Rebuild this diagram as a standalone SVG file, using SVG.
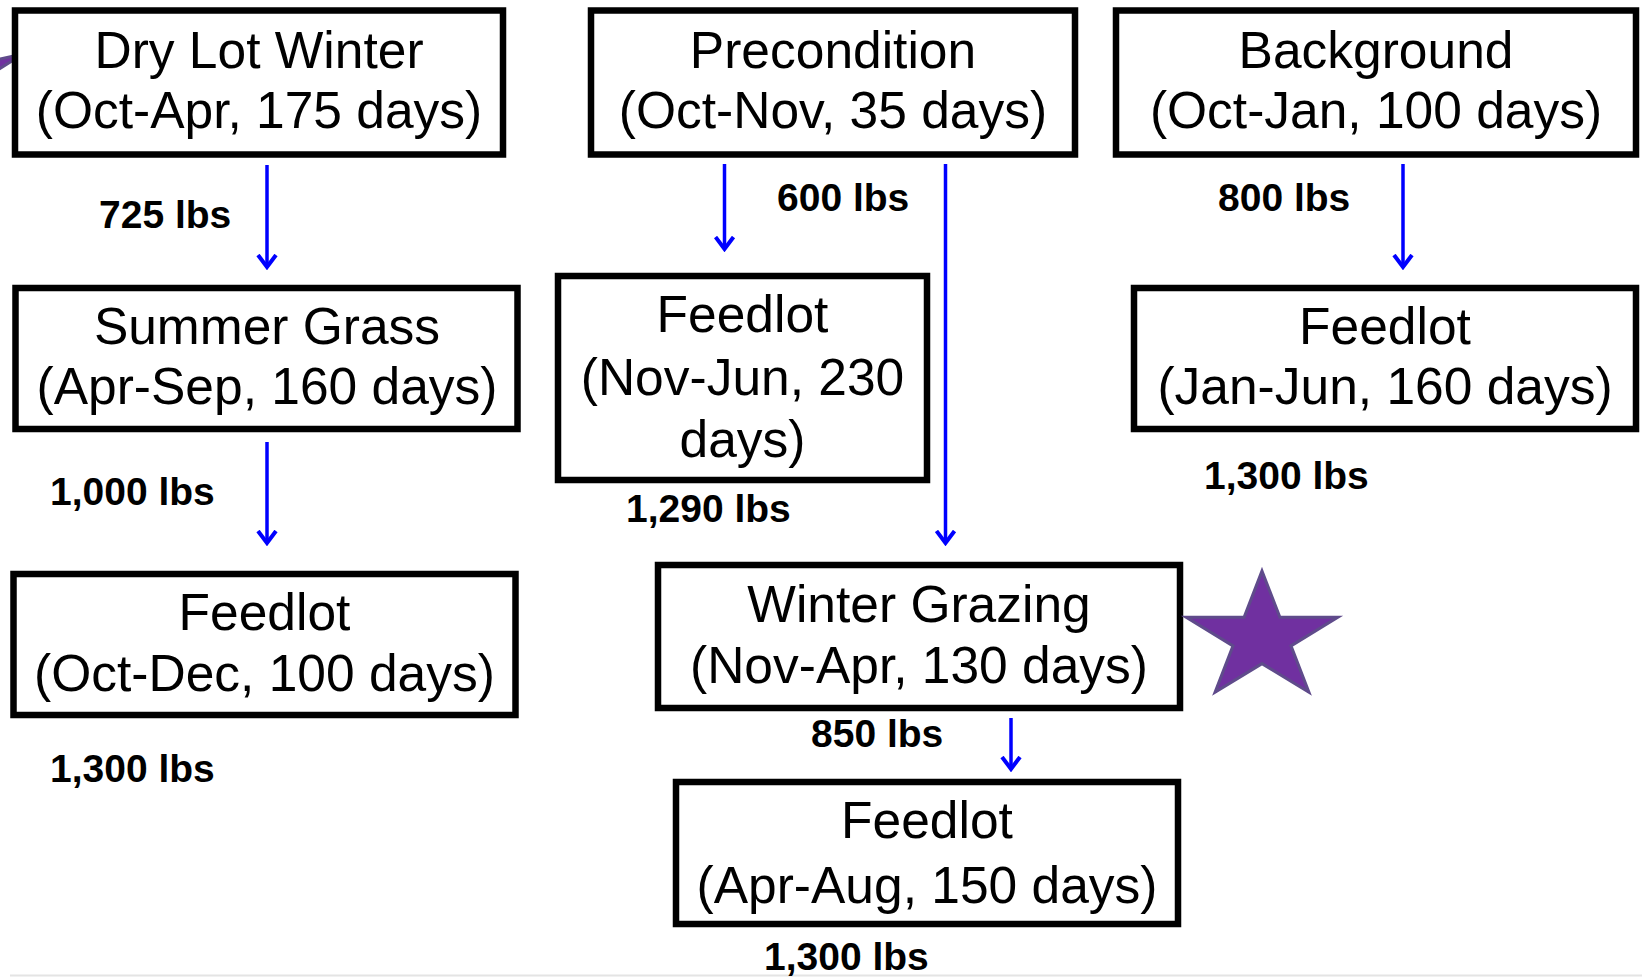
<svg xmlns="http://www.w3.org/2000/svg" width="1642" height="977" viewBox="0 0 1642 977">
<style>
.box{fill:#fff;stroke:#000;stroke-width:6.5}
.t{font-family:"Liberation Sans",Arial,sans-serif;font-size:51.5px;fill:#000;text-anchor:middle}
.w{font-family:"Liberation Sans",Arial,sans-serif;font-size:39px;font-weight:bold;fill:#000}
.c{stroke:#0000FF;stroke-width:3.5;fill:none;marker-end:url(#ah)}
.star{fill:#7030A0;stroke:#5F4B8B;stroke-width:3}
</style>
<defs>
<marker id="ah" markerUnits="userSpaceOnUse" viewBox="0 0 16 22" refX="13" refY="11" markerWidth="16" markerHeight="22" orient="auto">
<path d="M1,2 L13,11 L1,20" fill="none" stroke="#0000FF" stroke-width="4"/>
</marker>
</defs>
<rect x="0" y="0" width="1642" height="977" fill="#fff"/>
<line x1="10" y1="975.5" x2="1642" y2="975.5" stroke="#e4e4e4" stroke-width="2"/>
<polygon class="star" points="-12,61.5 23,54 -12,76"/>

<g id="connectors">
<line class="c" x1="267" y1="165" x2="267" y2="267"/>
<line class="c" x1="267" y1="442" x2="267" y2="543"/>
<line class="c" x1="724.5" y1="164" x2="724.5" y2="249"/>
<line class="c" x1="945.5" y1="164" x2="945.5" y2="543"/>
<line class="c" x1="1403" y1="164" x2="1403" y2="267"/>
<line class="c" x1="1011" y1="718" x2="1011" y2="769"/>
</g>

<g id="n-drylot">
<rect class="box" x="15" y="10.5" width="488" height="144"/>
<text class="t" x="259" y="68">Dry Lot Winter</text>
<text class="t" x="259" y="128">(Oct-Apr, 175 days)</text>
</g>
<g id="n-precondition">
<rect class="box" x="591" y="10.5" width="484" height="144"/>
<text class="t" x="833" y="68">Precondition</text>
<text class="t" x="833" y="128">(Oct-Nov, 35 days)</text>
</g>
<g id="n-background">
<rect class="box" x="1116" y="10.5" width="520" height="144"/>
<text class="t" x="1376" y="68">Background</text>
<text class="t" x="1376" y="128">(Oct-Jan, 100 days)</text>
</g>
<g id="n-summer">
<rect class="box" x="15.5" y="288" width="502" height="141"/>
<text class="t" x="267" y="344">Summer Grass</text>
<text class="t" x="267" y="404">(Apr-Sep, 160 days)</text>
</g>
<g id="n-feedlot-nov">
<rect class="box" x="558" y="276" width="369" height="204"/>
<text class="t" x="742.5" y="332">Feedlot</text>
<text class="t" x="742.5" y="395">(Nov-Jun, 230</text>
<text class="t" x="742.5" y="457">days)</text>
</g>
<g id="n-feedlot-jan">
<rect class="box" x="1134" y="288" width="502" height="141"/>
<text class="t" x="1385" y="344">Feedlot</text>
<text class="t" x="1385" y="404">(Jan-Jun, 160 days)</text>
</g>
<g id="n-feedlot-oct">
<rect class="box" x="13.5" y="574" width="502" height="141"/>
<text class="t" x="264.5" y="630">Feedlot</text>
<text class="t" x="264.5" y="691">(Oct-Dec, 100 days)</text>
</g>
<g id="n-wintergrazing">
<rect class="box" x="658" y="565" width="522" height="143"/>
<text class="t" x="919" y="622">Winter Grazing</text>
<text class="t" x="919" y="683">(Nov-Apr, 130 days)</text>
</g>
<g id="n-feedlot-apr">
<rect class="box" x="676" y="782" width="502" height="142"/>
<text class="t" x="927" y="838">Feedlot</text>
<text class="t" x="927" y="903">(Apr-Aug, 150 days)</text>
</g>

<g id="weights">
<text class="w" x="99" y="228">725 lbs</text>
<text class="w" x="50" y="505">1,000 lbs</text>
<text class="w" x="50" y="782">1,300 lbs</text>
<text class="w" x="777" y="211">600 lbs</text>
<text class="w" x="626" y="522">1,290 lbs</text>
<text class="w" x="1218" y="211">800 lbs</text>
<text class="w" x="1204" y="489">1,300 lbs</text>
<text class="w" x="811" y="747">850 lbs</text>
<text class="w" x="764" y="970">1,300 lbs</text>
</g>

<polygon id="star" class="star" points="1262,571 1279.9,617.3 1337.8,617.3 1291,645.9 1308.9,692.2 1262,663.6 1215.1,692.2 1233,645.9 1186.2,617.3 1244.1,617.3"/>
</svg>
